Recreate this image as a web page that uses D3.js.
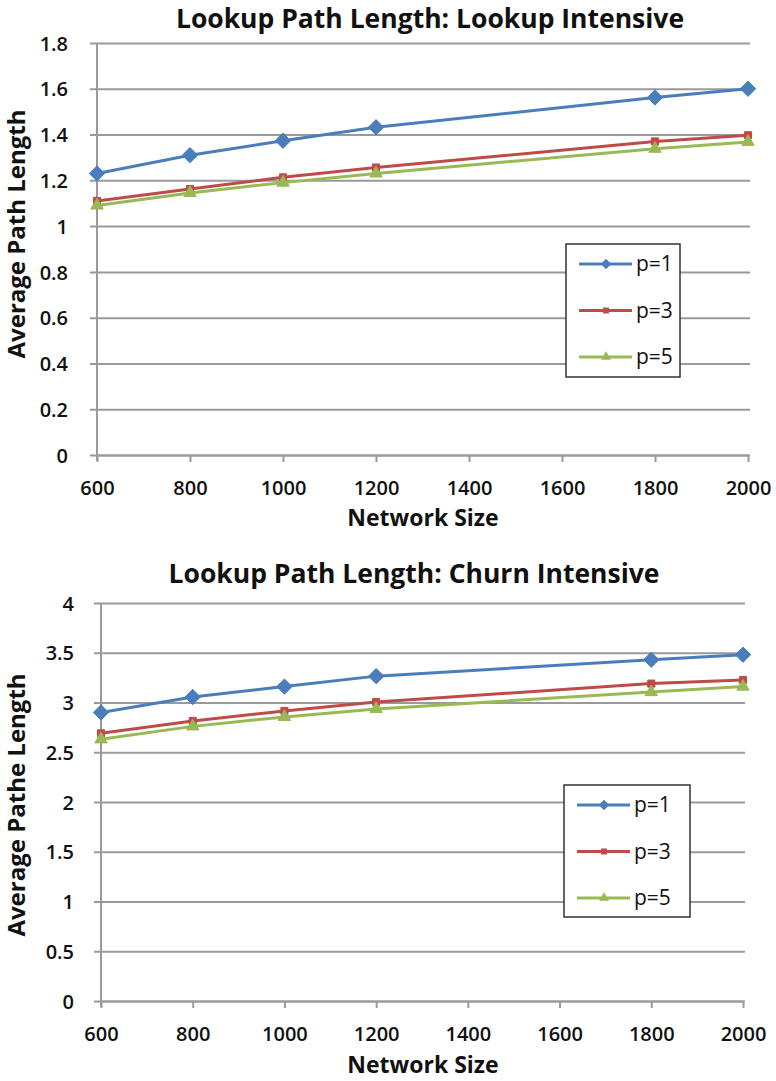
<!DOCTYPE html>
<html>
<head>
<meta charset="utf-8">
<script src="https://cdn.jsdelivr.net/npm/d3@7"></script>
<style>
  html, body { margin: 0; padding: 0; background: #fff; }
  svg text { font-family: "Open Sans", Lato, sans-serif; fill: #111; }
</style>
</head>
<body>
<svg id="chart" width="776" height="1081"></svg>
<script>
// Network sizes on the x axis
const networkSizes = [600, 800, 1000, 1200, 1800, 2000];
const xTicks = [600, 800, 1000, 1200, 1400, 1600, 1800, 2000];
const seriesNames = ["p=1", "p=3", "p=5"];

// Lookup-intensive workload
const lookupP1 = [1.23, 1.31, 1.373, 1.432, 1.562, 1.60];
const lookupP3 = [1.11, 1.162, 1.213, 1.256, 1.37, 1.397];
const lookupP5 = [1.09, 1.145, 1.19, 1.23, 1.338, 1.368];
const lookupYTicks = [0, 0.2, 0.4, 0.6, 0.8, 1, 1.2, 1.4, 1.6, 1.8];

// Churn-intensive workload
const churnP1 = [2.90, 3.055, 3.16, 3.265, 3.43, 3.48];
const churnP3 = [2.69, 2.815, 2.915, 3.005, 3.19, 3.225];
const churnP5 = [2.63, 2.76, 2.855, 2.935, 3.105, 3.16];
const churnYTicks = [0, 0.5, 1, 1.5, 2, 2.5, 3, 3.5, 4];

const colors = ["#4a7ebb", "#be4b48", "#98b954"];
const symbols = [d3.symbolDiamond2, d3.symbolSquare2, d3.symbolTriangle2];
const symbolSizes = [150, 64, 110];
const legendSymbolSizes = [70, 45, 70];

const svg = d3.select("#chart");

function drawPanel(cfg) {
  const g = svg.append("g");
  const x = d3.scaleLinear().domain([600, 2000]).range([cfg.left, cfg.right]);
  const y = d3.scaleLinear().domain([0, cfg.yMax]).range([cfg.bottom, cfg.top]);

  // horizontal gridlines with value labels
  g.append("g")
    .attr("transform", `translate(${cfg.left},0)`)
    .call(d3.axisLeft(y).tickValues(cfg.yTicks).tickSize(-(cfg.right - cfg.left) - 2)
      .tickSizeOuter(0).tickFormat(d => d3.format("~g")(d)))
    .call(a => a.select(".domain").remove())
    .call(a => a.selectAll(".tick line").attr("stroke", "#9a9a9a").attr("stroke-width", 2)
      .attr("x1", -7))
    .call(a => a.selectAll(".tick text").attr("font-size", 20).attr("font-weight", 600)
      .attr("x", -cfg.yLabelGap).attr("dy", "0.36em"));

  // vertical axis line
  g.append("line")
    .attr("x1", cfg.left).attr("x2", cfg.left)
    .attr("y1", cfg.top).attr("y2", cfg.bottom + 6)
    .attr("stroke", "#9a9a9a").attr("stroke-width", 2);

  // x axis
  g.append("g")
    .attr("transform", `translate(0,${cfg.bottom})`)
    .call(d3.axisBottom(x).tickValues(xTicks).tickSize(7).tickSizeOuter(0).tickPadding(19)
      .tickFormat(d3.format("d")))
    .call(a => a.select(".domain").attr("stroke", "#9a9a9a").attr("stroke-width", 2))
    .call(a => a.selectAll(".tick line").attr("stroke", "#9a9a9a").attr("stroke-width", 2))
    .call(a => a.selectAll(".tick text").attr("font-size", 20).attr("font-weight", 600));

  // series lines and markers
  const line = d3.line().x((d, i) => x(networkSizes[i])).y(d => y(d));
  cfg.series.forEach((vals, s) => {
    g.append("path").datum(vals)
      .attr("d", line).attr("fill", "none")
      .attr("stroke", colors[s]).attr("stroke-width", 3);
    g.selectAll(null).data(vals).enter().append("path")
      .attr("transform", (d, i) => `translate(${x(networkSizes[i])},${y(d)})`)
      .attr("d", d3.symbol().type(symbols[s]).size(symbolSizes[s]))
      .attr("fill", colors[s]).attr("stroke", colors[s]).attr("stroke-width", 1);
  });

  // chart title
  g.append("text").attr("x", cfg.titleX).attr("y", cfg.titleY)
    .attr("text-anchor", "middle").attr("font-size", 26.5).attr("font-weight", 700)
    .text(cfg.title);

  // axis titles
  g.append("text").attr("x", cfg.xTitleX).attr("y", cfg.xTitleY)
    .attr("text-anchor", "middle").attr("font-size", 23).attr("font-weight", 700)
    .text("Network Size");
  g.append("text")
    .attr("transform", `translate(25,${cfg.yTitleCenter}) rotate(-90)`)
    .attr("text-anchor", "middle").attr("font-size", 24).attr("font-weight", 700)
    .text(cfg.yTitle);

  // legend
  const lg = g.append("g");
  lg.append("rect").attr("x", cfg.legend.x).attr("y", cfg.legend.y)
    .attr("width", cfg.legend.w).attr("height", cfg.legend.h)
    .attr("fill", "#fff").attr("stroke", "#333").attr("stroke-width", 1.5);
  seriesNames.forEach((name, s) => {
    const cy = cfg.legend.y + 20 + s * 46.5;
    const lx = cfg.legend.x + 13;
    lg.append("line").attr("x1", lx).attr("x2", lx + 53).attr("y1", cy).attr("y2", cy)
      .attr("stroke", colors[s]).attr("stroke-width", 3);
    lg.append("path").attr("transform", `translate(${lx + 27},${cy})`)
      .attr("d", d3.symbol().type(symbols[s]).size(legendSymbolSizes[s]))
      .attr("fill", colors[s]);
    lg.append("text").attr("x", lx + 57).attr("y", cy + 7)
      .attr("font-size", 21).text(name);
  });
}

drawPanel({
  left: 97, right: 748, top: 43, bottom: 455, yMax: 1.8, yTicks: lookupYTicks,
  yLabelGap: 29,
  series: [lookupP1, lookupP3, lookupP5],
  title: "Lookup Path Length: Lookup Intensive", titleX: 430, titleY: 28,
  xTitleX: 423, xTitleY: 526, yTitle: "Average Path Length", yTitleCenter: 234,
  legend: { x: 566, y: 244, w: 114, h: 133 }
});

drawPanel({
  left: 101, right: 743, top: 603, bottom: 1001, yMax: 4, yTicks: churnYTicks,
  yLabelGap: 27,
  series: [churnP1, churnP3, churnP5],
  title: "Lookup Path Length: Churn Intensive", titleX: 414, titleY: 583,
  xTitleX: 423, xTitleY: 1073, yTitle: "Average Pathe Length", yTitleCenter: 805,
  legend: { x: 564, y: 785, w: 126, h: 132 }
});
</script>
</body>
</html>
